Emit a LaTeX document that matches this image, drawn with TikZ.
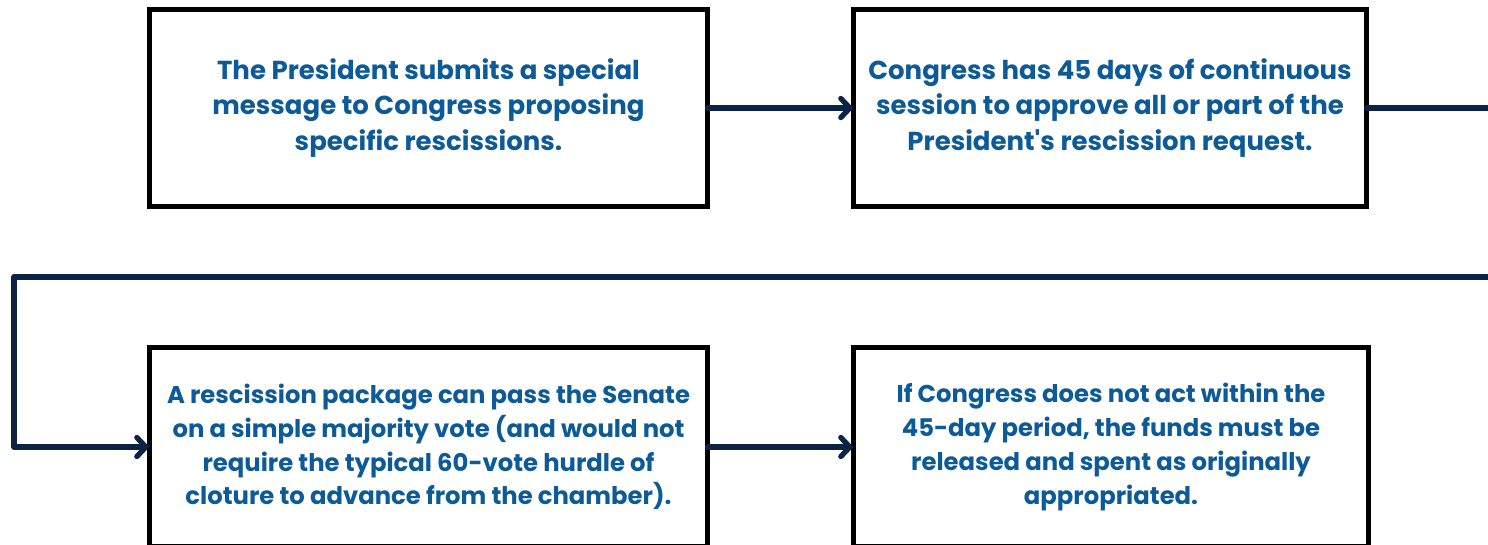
\documentclass[tikz,border=0pt]{standalone}
\usepackage{fontspec}
\setmainfont{Poppins}
\usetikzlibrary{arrows.meta}
\definecolor{txtblue}{HTML}{0D5A98}
\definecolor{navy}{HTML}{0B2446}
\tikzset{
  stepbox/.style={draw=black, line width=4.5pt, fill=white, align=center,
    text=txtblue, font=\fontsize{26}{35.5}\selectfont\bfseries,
    minimum height=197pt, inner sep=0pt, outer sep=0pt},
  lowbox/.style={stepbox, minimum height=199pt, font=\fontsize{24.3}{33.7}\selectfont\bfseries},
  conn/.style={draw=navy, line width=5.3pt, line cap=round, line join=round},
  arr/.style={conn, -{Straight Barb[length=9pt,width=19pt,line cap=round]}}
}
\begin{document}
\begin{tikzpicture}[x=1pt,y=-1pt]
\clip (0,0) rectangle (1488,544);
\fill[white] (0,0) rectangle (1488,544);
\node[stepbox, minimum width=558pt] (b1) at (428.5,108) {The President submits a special\\message to Congress proposing\\specific rescissions.};
\node[stepbox, minimum width=513pt] (b2) at (1110,108) {Congress has 45 days of continuous\\session to approve all or part of the\\President\textquotesingle s rescission request.};
\node[lowbox, minimum width=558pt] (b3) at (428.5,447) {A rescission package can pass the Senate\\on a simple majority vote (and would not\\require the typical 60-vote hurdle of\\cloture to advance from the chamber).};
\node[lowbox, minimum width=515pt] (b4) at (1111,447) {If Congress does not act within the\\45-day period, the funds must be\\released and spent as originally\\appropriated.};
\coordinate (r1) at (1495,108);
\coordinate (r2) at (1495,277);
\coordinate (lc) at (14,277);
\draw[arr] (b1.east) -- (b2.west);
\draw[conn] (b2.east) -- (r1);
\draw[arr] (r2) -- (lc) |- (b3.west);
\draw[arr] (b3.east) -- (b4.west);
\end{tikzpicture}
\end{document}
